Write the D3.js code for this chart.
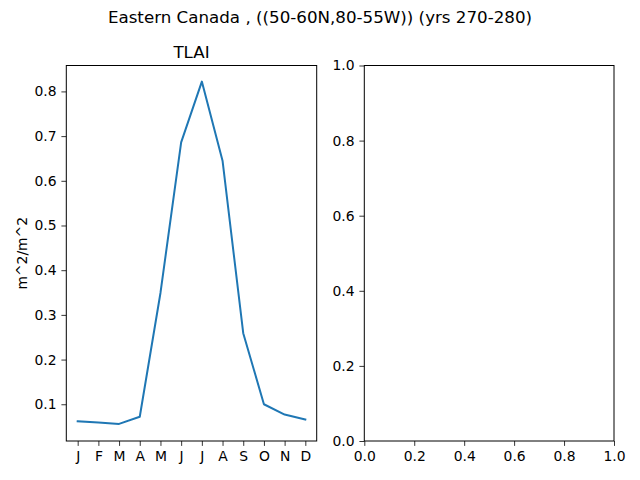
<!DOCTYPE html>
<html><head><meta charset="utf-8">
<script src="https://cdn.jsdelivr.net/npm/d3@7"></script>
<style>body{margin:0;background:#fff}svg{display:block}text{font-family:"DejaVu Sans",sans-serif;fill:#000}</style>
</head><body><svg id="c" width="640" height="480"></svg>
<script>
const months = ["J","F","M","A","M","J","J","A","S","O","N","D"];
const tlai = [0.062,0.059,0.056,0.072,0.349,0.686,0.822,0.645,0.259,0.100,0.077,0.066];
const leftYTicks = [0.1,0.2,0.3,0.4,0.5,0.6,0.7,0.8];
const rightTicks = [0,0.2,0.4,0.6,0.8,1.0];
const suptitle = "Eastern Canada , ((50-60N,80-55W)) (yrs 270-280)";
const axTitle = "TLAI";
const yLabel = "m^2/m^2";

const svg = d3.select("#c");
const plotTop = 65.5, plotBottom = 441;
const L = {x0:66.3, x1:316.7}, R = {x0:364.3, x1:614};
const fs = 13.9;

svg.append("text").attr("x",320).attr("y",22.5).attr("text-anchor","middle").style("font-size","16.7px").text(suptitle);

// left
const x = d3.scalePoint().domain(d3.range(12)).range([L.x0,L.x1]).padding(0.55);
const y = d3.scaleLinear().domain([0.0178,0.858]).range([plotBottom,plotTop]);
const gL = svg.append("g");
gL.append("g").attr("transform",`translate(0,${plotBottom})`)
  .call(d3.axisBottom(x).tickSizeOuter(0).tickSize(4.9).tickPadding(4.9).tickFormat(i=>months[i]));
gL.append("g").attr("transform",`translate(${L.x0},0)`)
  .call(d3.axisLeft(y).tickValues(leftYTicks).tickSizeOuter(0).tickSize(4.9).tickPadding(4.9).tickFormat(d3.format(".1f")));
gL.append("path").datum(tlai).attr("fill","none").attr("stroke","#1f77b4").attr("stroke-width",2).attr("stroke-linejoin","round").attr("stroke-linecap","square")
  .attr("d",d3.line().x((d,i)=>x(i)).y(d=>y(d)));
gL.append("rect").attr("x",L.x0).attr("y",plotTop).attr("width",L.x1-L.x0).attr("height",plotBottom-plotTop).attr("fill","none").attr("stroke","#000").attr("stroke-width",1);
gL.append("text").attr("x",(L.x0+L.x1)/2).attr("y",57.5).attr("text-anchor","middle").style("font-size","16.7px").text(axTitle);
gL.append("text").attr("transform",`translate(27,${(plotTop+plotBottom)/2}) rotate(-90)`).attr("text-anchor","middle").style("font-size",fs+"px").text(yLabel);

// right
const xr = d3.scaleLinear().domain([0,1]).range([R.x0,R.x1]);
const yr = d3.scaleLinear().domain([0,1]).range([plotBottom,plotTop]);
const gR = svg.append("g");
gR.append("g").attr("transform",`translate(0,${plotBottom})`)
  .call(d3.axisBottom(xr).tickValues(rightTicks).tickSizeOuter(0).tickSize(4.9).tickPadding(4.9).tickFormat(d3.format(".1f")));
gR.append("g").attr("transform",`translate(${R.x0},0)`)
  .call(d3.axisLeft(yr).tickValues(rightTicks).tickSizeOuter(0).tickSize(4.9).tickPadding(4.9).tickFormat(d3.format(".1f")));
gR.append("rect").attr("x",R.x0).attr("y",plotTop).attr("width",R.x1-R.x0).attr("height",plotBottom-plotTop).attr("fill","none").attr("stroke","#000").attr("stroke-width",1);

svg.selectAll(".domain").remove();
svg.selectAll(".tick text").style("font-size",fs+"px").attr("font-family",null);
svg.selectAll(".tick line").attr("stroke","#000").attr("stroke-width",0.8);
</script></body></html>
